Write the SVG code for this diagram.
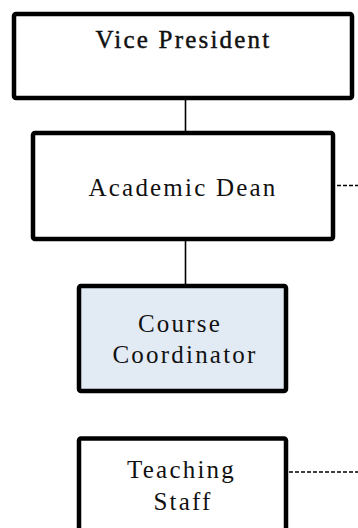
<svg xmlns="http://www.w3.org/2000/svg" width="358" height="528" viewBox="0 0 358 528">
<style>
.box{fill:#ffffff;stroke:#000000;stroke-width:4.5;stroke-linejoin:round}
.blue{fill:#e2eaf4}
.lbl{font-family:"Liberation Serif","Times New Roman",serif;font-size:25px;fill:#111111;text-anchor:middle;letter-spacing:2.2px}
.bold{stroke:#111111;stroke-width:0.45}
.solid{stroke:#000000;stroke-width:1.6;fill:none}
.dash{stroke:#000000;stroke-width:1.6;fill:none;stroke-dasharray:4 2}
</style>
<rect width="358" height="528" fill="#ffffff"/>
<g id="connectors">
<line class="solid" x1="185.5" y1="100" x2="185.5" y2="131"/>
<line class="solid" x1="185.5" y1="241" x2="185.5" y2="285"/>
<line class="dash" x1="337" y1="185.5" x2="358" y2="185.5"/>
<line class="dash" x1="289" y1="472" x2="358" y2="472"/>
</g>
<g id="vice-president">
<rect class="box" x="14" y="14" width="338" height="84" rx="2"/>
<text class="lbl bold" x="183.5" y="48">Vice President</text>
</g>
<g id="academic-dean">
<rect class="box" x="33" y="133" width="300" height="106" rx="2"/>
<text class="lbl" x="183" y="196">Academic Dean</text>
</g>
<g id="course-coordinator">
<rect class="box blue" x="79" y="286" width="207" height="105" rx="2"/>
<text class="lbl" x="180" y="332">Course</text>
<text class="lbl" x="185" y="363">Coordinator</text>
</g>
<g id="teaching-staff">
<rect class="box" x="79" y="438.5" width="207" height="120" rx="2"/>
<text class="lbl" x="181.5" y="478">Teaching</text>
<text class="lbl" x="183" y="510">Staff</text>
</g>
</svg>
